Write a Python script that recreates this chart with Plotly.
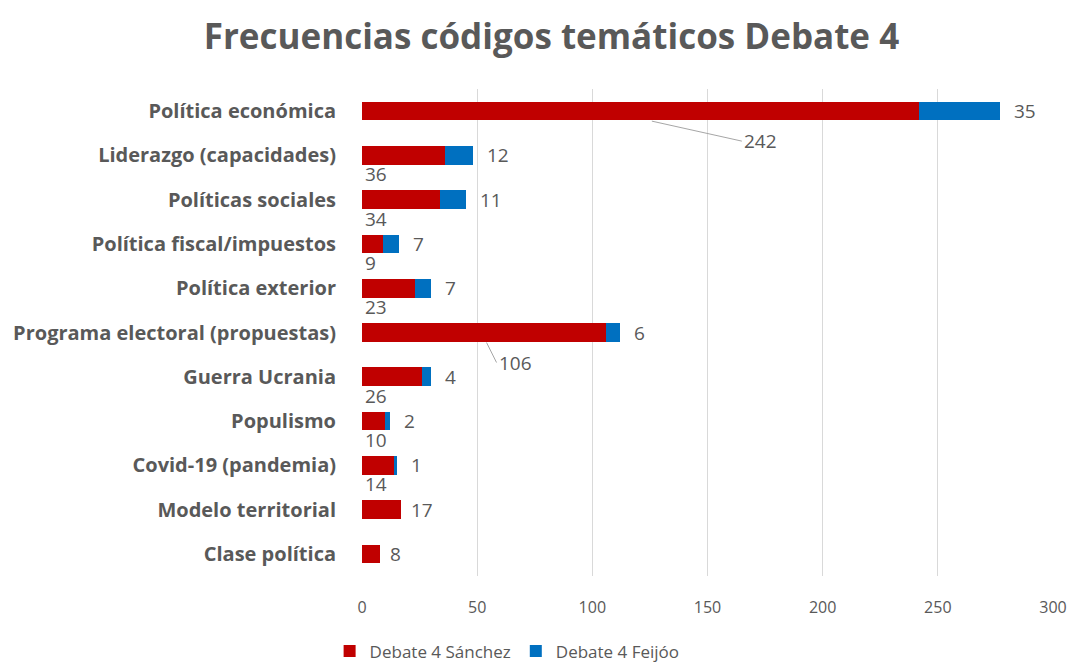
import plotly.graph_objects as go

categories = [
    "Política económica",
    "Liderazgo (capacidades)",
    "Políticas sociales",
    "Política fiscal/impuestos",
    "Política exterior",
    "Programa electoral (propuestas)",
    "Guerra Ucrania",
    "Populismo",
    "Covid-19 (pandemia)",
    "Modelo territorial",
    "Clase política",
]
sanchez = [242, 36, 34, 9, 23, 106, 26, 10, 14, 17, 8]
feijoo = [35, 12, 11, 7, 7, 6, 4, 2, 1, 0, 0]
x_ticks = [0, 50, 100, 150, 200, 250, 300]

RED = "#C00000"
BLUE = "#0070C0"
GRAY = "#595959"
FONT = "Open Sans"
LBL = dict(size=19, color=GRAY, family=FONT)

fig = go.Figure()
fig.add_trace(go.Bar(
    y=categories, x=sanchez, orientation="h", name="Debate 4 Sánchez",
    marker=dict(color=RED, line=dict(width=0)), width=0.42,
))
fig.add_trace(go.Bar(
    y=categories, x=feijoo, orientation="h", name="Debate 4 Feijóo",
    marker=dict(color=BLUE, line=dict(width=0)), width=0.42,
))

annotations = []
for cat, s, f in zip(categories, sanchez, feijoo):
    total = s + f
    if f > 0:
        annotations.append(dict(
            x=total, y=cat, text=str(f), showarrow=False, xanchor="left",
            xshift=12, font=LBL,
        ))
        if s > 100:
            frac = 0.52 if s > 200 else 0.51
            ax = 90 if s > 200 else 10
            annotations.append(dict(
                x=s * frac, y=cat, yshift=-10, text=str(s), showarrow=True,
                arrowhead=0, arrowwidth=1, arrowcolor="#A6A6A6",
                ax=ax, ay=20, xanchor="left", standoff=0, font=LBL,
            ))
        else:
            annotations.append(dict(
                x=0, y=cat, text=str(s), showarrow=False, xanchor="left",
                xshift=1, yshift=-19, font=LBL,
            ))
    else:
        annotations.append(dict(
            x=total, y=cat, text=str(s), showarrow=False, xanchor="left",
            xshift=8, font=LBL,
        ))

fig.update_layout(
    width=1077, height=668,
    barmode="stack",
    paper_bgcolor="white", plot_bgcolor="white",
    margin=dict(l=362, r=24, t=89, b=92, autoexpand=False),
    title=dict(
        text="<b>Frecuencias códigos temáticos Debate 4</b>",
        x=0.512, xanchor="center", y=1 - 37 / 668, yref="container", yanchor="middle",
        font=dict(size=35, color=GRAY, family=FONT),
    ),
    xaxis=dict(
        range=[0, 300], tickvals=x_ticks, showgrid=True, gridcolor="#D9D9D9",
        gridwidth=1, zeroline=False, showline=False, ticks="",
        ticklabelstandoff=20, automargin=False,
        tickfont=dict(size=16, color=GRAY, family=FONT),
    ),
    yaxis=dict(
        range=[10.5, -0.5], showgrid=False, showline=False, ticks="",
        ticklabelstandoff=25, automargin=False,
        tickvals=categories,
        ticktext=["<b>%s</b>" % c for c in categories],
        tickfont=dict(size=20, color=GRAY, family=FONT),
        categoryorder="array", categoryarray=categories,
    ),
    showlegend=True,
    legend=dict(
        orientation="h", x=0.21, xanchor="center", y=-0.155, yanchor="middle",
        font=dict(size=17, color=GRAY, family=FONT), traceorder="normal",
        itemwidth=30,
    ),
    bargap=0.58,
    annotations=annotations,
)

fig.write_html("out.html")
